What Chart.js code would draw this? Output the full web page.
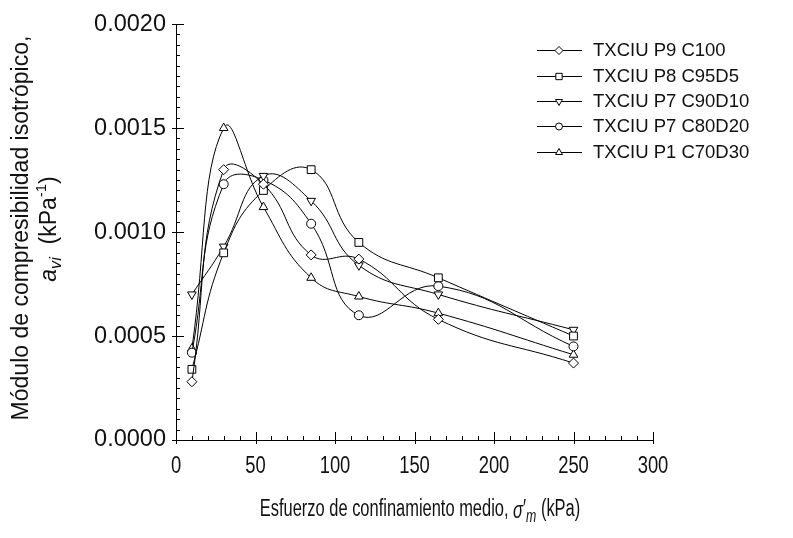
<!DOCTYPE html>
<html>
<head>
<meta charset="utf-8">
<script src="https://cdn.jsdelivr.net/npm/chart.js@4.4.1/dist/chart.umd.min.js"></script>
<style>
  html, body { margin: 0; padding: 0; background: #fff; }
  #wrap { width: 793px; height: 538px; position: relative; }
</style>
</head>
<body>
<div id="wrap"><canvas id="chart" width="793" height="538"></canvas></div>
<script>
// Esfuerzo de confinamiento medio (kPa)
const pressures = [10, 30, 55, 85, 115, 165, 250];

const seriesNames = ['TXCIU P9 C100', 'TXCIU P8 C95D5', 'TXCIU P7 C90D10', 'TXCIU P7 C80D20', 'TXCIU P1 C70D30'];

// módulo a_vi (kPa^-1)
const p9c100  = [0.00028, 0.00130, 0.00123, 0.00089, 0.00087, 0.00058, 0.00037];
const p8c95d5 = [0.00034, 0.00090, 0.00120, 0.00130, 0.00095, 0.00078, 0.00050];
const p7c90d10 = [0.00070, 0.00093, 0.00127, 0.00115, 0.00084, 0.00070, 0.00053];
const p7c80d20 = [0.00042, 0.00123, 0.00125, 0.00104, 0.00060, 0.00074, 0.00045];
const p1c70d30 = [0.00044, 0.00150, 0.00112, 0.00078, 0.00069, 0.00061, 0.00041];

const xTicks = [0, 50, 100, 150, 200, 250, 300];
const yTicks = [0, 0.0005, 0.0010, 0.0015, 0.0020];

const allSeries = [p9c100, p8c95d5, p7c90d10, p7c80d20, p1c70d30];
const markers = [
    { style: 'rectRot', rot: 0, r: 5 },
    { style: 'rect', rot: 0, r: 5.5 },
    { style: 'triangle', rot: 180, r: 5 },
    { style: 'circle', rot: 0, r: 4.5 },
    { style: 'triangle', rot: 0, r: 5 }
];

const FONT = "'Liberation Sans', Arial, sans-serif";
const NARROW_X = 0.8;   // el original usa una fuente estrecha en el eje x

// dibuja texto con cursiva / subíndices
function drawRich(ctx, runs, cx, cy, size, family) {
    let total = 0;
    runs.forEach(r => {
        const s = size * (r.scale || 1);
        ctx.font = (r.italic ? 'italic ' : '') + s + 'px ' + family;
        r.w = ctx.measureText(r.t).width;
        total += r.w;
    });
    let x = cx - total / 2;
    ctx.textAlign = 'left';
    ctx.textBaseline = 'middle';
    runs.forEach(r => {
        const s = size * (r.scale || 1);
        ctx.font = (r.italic ? 'italic ' : '') + s + 'px ' + family;
        ctx.fillText(r.t, x, cy + (r.dy || 0));
        x += r.w;
    });
}

const decorPlugin = {
    id: 'decor',
    afterDraw(chart) {
        const ctx = chart.ctx;
        const xs = chart.scales.x, ys = chart.scales.y;
        const area = chart.chartArea;
        ctx.save();
        ctx.strokeStyle = '#000';
        ctx.lineWidth = 1;

        // marcas hacia dentro
        ctx.beginPath();
        for (let v = 0; v <= 300; v += 10) {
            const px = Math.round(xs.getPixelForValue(v)) + 0.5;
            const major = v % 50 === 0;
            ctx.moveTo(px, area.bottom + (major ? 4 : 0));
            ctx.lineTo(px, area.bottom - (major ? 8 : 4));
        }
        for (let i = 0; i <= 40; i++) {
            const py = Math.round(ys.getPixelForValue(i * 0.00005)) + 0.5;
            const major = i % 10 === 0;
            ctx.moveTo(area.left - (major ? 4 : 0), py);
            ctx.lineTo(area.left + (major ? 8 : 4), py);
        }
        ctx.stroke();

        // etiquetas del eje x (estrechas)
        ctx.fillStyle = '#111';
        xTicks.forEach(v => {
            const px = xs.getPixelForValue(v);
            ctx.save();
            ctx.translate(px, area.bottom + 27);
            ctx.scale(NARROW_X, 1);
            drawRich(ctx, [{ t: String(v) }], 0, 0, 23, FONT);
            ctx.restore();
        });

        // leyenda
        const rowY = [50, 76, 101, 126, 152];
        seriesNames.forEach((name, i) => {
            const y = rowY[i];
            ctx.beginPath();
            ctx.moveTo(537, y + 0.5);
            ctx.lineTo(582, y + 0.5);
            ctx.stroke();
            ctx.fillStyle = '#fff';
            Chart.helpers.drawPoint(ctx, {
                pointStyle: markers[i].style,
                rotation: markers[i].rot,
                radius: markers[i].r - 1,
                borderWidth: 1
            }, 559, y + 0.5);
            ctx.fillStyle = '#111';
            ctx.font = '18.5px ' + FONT;
            ctx.textAlign = 'left';
            ctx.textBaseline = 'middle';
            ctx.fillText(name, 593, y + 1);
        });

        // títulos de ejes
        ctx.fillStyle = '#111';
        ctx.save();
        ctx.translate(420, 510);
        ctx.scale(0.7, 1);
        drawRich(ctx, [
            { t: 'Esfuerzo de confinamiento medio, ' },
            { t: 'σ', italic: true, dy: 1 },
            { t: '\u2032' },
            { t: 'm', italic: true, scale: 0.75, dy: 7 },
            { t: ' (kPa)' }
        ], 0, 0, 23.5, FONT);
        ctx.restore();

        ctx.save();
        ctx.translate(22, 228);
        ctx.rotate(-Math.PI / 2);
        drawRich(ctx, [{ t: 'Módulo de compresibilidad isotrópico,' }], 0, 0, 23, FONT);
        ctx.restore();

        ctx.save();
        ctx.translate(50, 229);
        ctx.rotate(-Math.PI / 2);
        drawRich(ctx, [
            { t: 'a', italic: true },
            { t: 'vi', italic: true, scale: 0.7, dy: 7 },
            { t: '  (kPa' },
            { t: '-1', scale: 0.65, dy: -8 },
            { t: ')' }
        ], 0, 0, 23, FONT);
        ctx.restore();

        ctx.restore();
    }
};

const datasets = allSeries.map((vals, i) => ({
    label: seriesNames[i],
    data: pressures.map((p, j) => ({ x: p, y: vals[j] })),
    borderColor: '#000',
    borderWidth: 1,
    backgroundColor: '#fff',
    pointBackgroundColor: '#fff',
    pointBorderColor: '#000',
    pointBorderWidth: 1,
    pointStyle: markers[i].style,
    pointRotation: markers[i].rot,
    pointRadius: markers[i].r,
    tension: 0.45,
    fill: false
}));

new Chart(document.getElementById('chart'), {
    type: 'line',
    data: { datasets: datasets },
    options: {
        responsive: false,
        animation: false,
        events: [],
        layout: { padding: { left: 0, right: 140, top: 18, bottom: 0 } },
        plugins: { legend: { display: false }, tooltip: { enabled: false } },
        scales: {
            x: {
                type: 'linear',
                min: 0, max: 300,
                afterFit: s => { s.height = 98; },
                afterBuildTicks: s => { s.ticks = xTicks.map(v => ({ value: v })); },
                grid: { display: true, drawOnChartArea: false, drawTicks: false },
                border: { display: true, color: '#000', width: 1 },
                ticks: { display: false }
            },
            y: {
                type: 'linear',
                min: 0, max: 0.002,
                afterFit: s => { s.width = 176; },
                afterBuildTicks: s => { s.ticks = yTicks.map(v => ({ value: v })); },
                grid: { display: true, drawOnChartArea: false, drawTicks: false },
                border: { display: true, color: '#000', width: 1 },
                ticks: {
                    color: '#111', padding: 10, font: { family: FONT, size: 23.5 },
                    callback: v => v.toFixed(4)
                }
            }
        }
    },
    plugins: [decorPlugin]
});
</script>
</body>
</html>
